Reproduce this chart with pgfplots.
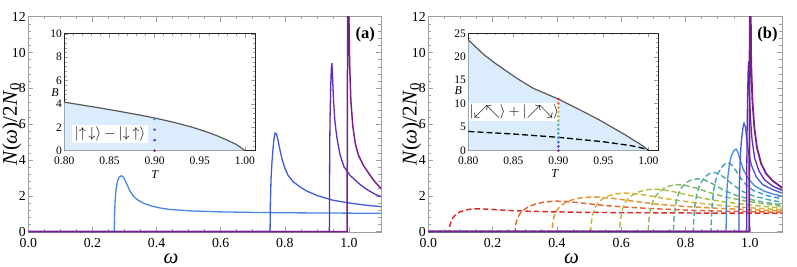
\documentclass[border=0pt]{standalone}
\usepackage{pgfplots}
\pgfplotsset{compat=1.18}
\usepackage{fontspec}
\setmainfont{Liberation Serif}
\definecolor{c0}{RGB}{122,30,138}
\definecolor{c1}{RGB}{90,45,195}
\definecolor{c2}{RGB}{65,92,215}
\definecolor{c3}{RGB}{72,135,225}
\definecolor{c4}{RGB}{68,160,200}
\definecolor{c5}{RGB}{78,172,168}
\definecolor{c6}{RGB}{100,178,130}
\definecolor{c7}{RGB}{138,186,92}
\definecolor{c8}{RGB}{178,190,66}
\definecolor{c9}{RGB}{212,178,55}
\definecolor{c10}{RGB}{229,146,50}
\definecolor{c11}{RGB}{230,98,45}
\definecolor{c12}{RGB}{220,40,40}
\definecolor{fillblue}{RGB}{219,236,252}
\definecolor{bndgray}{RGB}{90,90,90}
\pgfplotsset{
  every axis/.append style={/pgf/number format/assume math mode=true},
  mainax/.style={
    scale only axis, anchor=south west, height=215.6pt,
    xmin=0, xmax=1.1, ymin=-0.04, ymax=12,
    xtick={0,0.2,0.4,0.6,0.8,1.0}, ytick={0,2,4,6,8,10,12},
    minor x tick num=3, minor y tick num=4,
    xticklabel style={/pgf/number format/fixed, /pgf/number format/fixed zerofill, /pgf/number format/precision=1, yshift=-2pt},
    yticklabel style={/pgf/number format/fixed, /pgf/number format/precision=0, xshift=1pt},
    tick label style={font=\fontsize{13.8}{14}\selectfont},
    axis line style={gray!75},
    tick style={gray!75, line width=0.5pt},
    major tick length=5pt, minor tick length=2.8pt,
    ylabel={\textit{N}(\textit{ω})/2\textit{N}\textsubscript{0}},
    ylabel style={at={(axis description cs:-0.047,0.5)}, anchor=center, font=\fontsize{21}{22}\selectfont},
    xlabel={\textit{ω}},
    xlabel style={at={(axis description cs:0.405,-0.147)}, anchor=base, inner sep=0pt, font=\fontsize{21}{22}\selectfont},
  },
  insetax/.style={
    scale only axis, anchor=south west, width=190.5pt, height=116.9pt,
    xmin=0.8, xmax=1.011, ymin=0,
    xtick={0.8,0.85,0.9,0.95,1.0},
    minor x tick num=4, minor y tick num=4,
    xticklabel style={/pgf/number format/fixed, /pgf/number format/fixed zerofill, /pgf/number format/precision=2, yshift=-2.5pt},
    yticklabel style={/pgf/number format/fixed, /pgf/number format/precision=0, xshift=1pt},
    tick label style={font=\fontsize{11.5}{12}\selectfont},
    axis line style={black!85, line width=0.6pt},
    tick style={gray!75, line width=0.5pt},
    major tick length=4pt, minor tick length=2.2pt,
    axis background/.style={fill=white},
    xlabel={\textit{T}}, ylabel={\textit{B}},
    xlabel style={font=\fontsize{12}{13}\selectfont, anchor=center},
    ylabel style={font=\fontsize{12}{13}\selectfont, anchor=center, rotate=-90},
  },
  sol/.style={line width=1.3pt},
  dsh/.style={line width=1.45pt, dash pattern=on 5.5pt off 3pt},
  dot/.style={only marks, mark=*, mark size=1.1pt},
}
\begin{document}
\begin{tikzpicture}
\path[use as bounding box] (0,0) rectangle (797pt,267pt);
% ---------------- panel (a) main
\begin{axis}[mainax, at={(28.3pt,34.7pt)}, width=352.7pt]
\addplot[sol, c3] coordinates {(0,0)(0.268,0)(0.269,1.0)(0.271,1.8)(0.274,2.4)(0.278,2.8)(0.284,3.05)(0.291,3.12)(0.298,3.0)(0.306,2.7)(0.316,2.3)(0.327,2.0)(0.34,1.78)(0.36,1.58)(0.38,1.45)(0.41,1.32)(0.44,1.24)(0.5,1.16)(0.6,1.1)(0.7,1.07)(0.8,1.05)(0.9,1.04)(1.0,1.03)(1.1,1.02)};
\addplot[sol, c2] coordinates {(0,0)(0.754,0)(0.755,1.6)(0.757,2.9)(0.76,3.9)(0.763,4.6)(0.766,5.15)(0.77,5.5)(0.774,5.45)(0.779,5.1)(0.785,4.55)(0.792,4.0)(0.80,3.55)(0.81,3.15)(0.825,2.8)(0.847,2.5)(0.87,2.25)(0.9,2.02)(0.95,1.75)(1.0,1.6)(1.05,1.48)(1.1,1.39)};
\addplot[sol, c1] coordinates {(0,0)(0.939,0)(0.9395,2.5)(0.940,4.5)(0.941,6.3)(0.943,8.0)(0.945,9.1)(0.947,9.4)(0.949,8.6)(0.952,7.3)(0.956,6.2)(0.962,5.3)(0.972,4.3)(0.985,3.6)(1.003,3.15)(1.03,2.7)(1.056,2.35)(1.08,2.1)(1.1,1.95)};
\addplot[sol, c0, line width=1.5pt] coordinates {(0,0)(0.994,0)(0.995,5)(0.996,13)(0.999,13)(1.002,9.5)(1.006,7.3)(1.012,5.9)(1.02,4.9)(1.03,4.25)(1.045,3.7)(1.06,3.3)(1.08,2.8)(1.1,2.4)};
\node[font=\bfseries\fontsize{16.5}{17}\selectfont] at (axis description cs:0.955,0.915) {(a)};
\end{axis}
% ---------------- panel (b) main
\begin{axis}[mainax, at={(428.3pt,34.7pt)}, width=353.7pt]
\addplot[dsh, c12] coordinates {(0,0)(0.065,0)(0.067,0.32)(0.071,0.57)(0.077,0.78)(0.086,0.97)(0.098,1.1)(0.113,1.19)(0.13,1.25)(0.15,1.27)(0.175,1.26)(0.21,1.22)(0.26,1.17)(0.32,1.13)(0.4,1.1)(0.5,1.07)(0.6,1.06)(0.7,1.05)(0.8,1.04)(0.9,1.03)(1.0,1.03)(1.1,1.02)};
\addplot[dsh, c11] coordinates {(0,0)(0.27,0)(0.272,0.42)(0.277,0.75)(0.285,1.0)(0.297,1.22)(0.313,1.4)(0.333,1.54)(0.358,1.64)(0.39,1.7)(0.42,1.69)(0.46,1.63)(0.51,1.53)(0.56,1.44)(0.62,1.36)(0.7,1.28)(0.8,1.2)(0.9,1.15)(1.0,1.11)(1.1,1.08)};
\addplot[dsh, c10] coordinates {(0,0)(0.385,0)(0.387,0.48)(0.391,0.85)(0.398,1.15)(0.41,1.4)(0.425,1.6)(0.447,1.77)(0.473,1.88)(0.505,1.93)(0.535,1.92)(0.575,1.85)(0.62,1.74)(0.7,1.55)(0.8,1.4)(0.9,1.3)(1.0,1.22)(1.1,1.15)};
\addplot[dsh, c9] coordinates {(0,0)(0.505,0)(0.507,0.53)(0.511,0.95)(0.517,1.3)(0.527,1.58)(0.54,1.8)(0.557,1.98)(0.582,2.1)(0.61,2.15)(0.635,2.13)(0.67,2.05)(0.71,1.93)(0.76,1.78)(0.82,1.63)(0.9,1.47)(1.0,1.33)(1.1,1.22)};
\addplot[dsh, c8] coordinates {(0,0)(0.595,0)(0.597,0.58)(0.601,1.05)(0.607,1.43)(0.617,1.75)(0.63,1.98)(0.648,2.18)(0.672,2.31)(0.70,2.37)(0.725,2.35)(0.76,2.24)(0.81,2.03)(0.86,1.84)(0.92,1.66)(1.0,1.48)(1.1,1.31)};
\addplot[dsh, c7] coordinates {(0,0)(0.684,0)(0.686,0.64)(0.69,1.15)(0.696,1.58)(0.705,1.93)(0.717,2.2)(0.733,2.42)(0.752,2.56)(0.775,2.62)(0.8,2.58)(0.835,2.42)(0.875,2.18)(0.925,1.93)(0.98,1.73)(1.04,1.56)(1.1,1.41)};
\addplot[dsh, c6] coordinates {(0,0)(0.762,0)(0.764,0.72)(0.767,1.25)(0.772,1.75)(0.779,2.15)(0.789,2.48)(0.803,2.75)(0.82,2.9)(0.84,2.95)(0.86,2.88)(0.885,2.66)(0.915,2.35)(0.95,2.07)(1.0,1.8)(1.05,1.62)(1.1,1.5)};
\addplot[dsh, c5] coordinates {(0,0)(0.824,0)(0.826,0.85)(0.829,1.45)(0.834,2.0)(0.841,2.45)(0.85,2.8)(0.862,3.08)(0.876,3.25)(0.89,3.3)(0.905,3.22)(0.925,2.95)(0.95,2.58)(0.98,2.22)(1.015,1.97)(1.06,1.77)(1.1,1.64)};
\addplot[dsh, c4] coordinates {(0,0)(0.879,0)(0.881,1.0)(0.884,1.75)(0.888,2.35)(0.894,2.88)(0.902,3.28)(0.912,3.58)(0.922,3.77)(0.933,3.84)(0.944,3.72)(0.956,3.42)(0.97,3.02)(0.988,2.62)(1.01,2.3)(1.05,2.03)(1.1,1.82)};
\addplot[sol, c3] coordinates {(0,0)(0.926,0)(0.927,1.5)(0.929,2.4)(0.932,3.1)(0.936,3.7)(0.941,4.15)(0.948,4.45)(0.953,4.57)(0.958,4.6)(0.963,4.42)(0.97,4.0)(0.98,3.45)(0.995,2.95)(1.015,2.55)(1.045,2.25)(1.075,2.08)(1.1,1.98)};
\addplot[sol, c2] coordinates {(0,0)(0.966,0)(0.967,2.2)(0.969,3.5)(0.971,4.4)(0.974,5.1)(0.977,5.6)(0.98,5.95)(0.982,6.05)(0.986,5.85)(0.99,5.2)(0.996,4.4)(1.005,3.7)(1.02,3.05)(1.04,2.62)(1.07,2.35)(1.1,2.15)};
\addplot[sol, c1] coordinates {(0,0)(0.99,0)(0.9905,3.5)(0.9915,5.8)(0.993,7.6)(0.9945,8.9)(0.996,9.5)(0.9975,8.8)(0.999,7.6)(1.002,6.3)(1.007,5.1)(1.015,4.1)(1.028,3.4)(1.045,2.9)(1.07,2.55)(1.1,2.3)};
\addplot[sol, c0, line width=1.8pt] coordinates {(0,0)(0.998,0)(0.999,8)(1.0,14)(1.002,14)(1.004,9.5)(1.008,7.3)(1.014,5.8)(1.022,4.7)(1.035,3.8)(1.05,3.25)(1.07,2.85)(1.1,2.45)};
\node[font=\bfseries\fontsize{16.5}{17}\selectfont] at (axis description cs:0.959,0.915) {(b)};
\end{axis}
% ---------------- inset (a)
\begin{axis}[insetax, at={(64.3pt,116.3pt)}, ymax=10, ytick={0,2,4,6,8,10},
  xlabel style={at={(axis description cs:0.476,-0.2)}},
  ylabel style={at={(axis description cs:-0.049,0.5)}}]
\addplot[fill=fillblue, draw=none] coordinates {(0.8,4.15)(0.82,3.9)(0.84,3.65)(0.86,3.38)(0.88,3.1)(0.90,2.8)(0.92,2.45)(0.94,2.05)(0.95,1.8)(0.96,1.55)(0.97,1.25)(0.98,0.92)(0.99,0.55)(0.995,0.3)(1.0,0)} \closedcycle;
\addplot[bndgray, line width=1.2pt] coordinates {(0.8,4.15)(0.82,3.9)(0.84,3.65)(0.86,3.38)(0.88,3.1)(0.90,2.8)(0.92,2.45)(0.94,2.05)(0.95,1.8)(0.96,1.55)(0.97,1.25)(0.98,0.92)(0.99,0.55)(0.995,0.3)(1.0,0)};
\addplot[dot, c3] coordinates {(0.9,2.7)};
\addplot[dot, c2] coordinates {(0.9,1.8)};
\addplot[dot, c1] coordinates {(0.9,0.9)};
\addplot[dot, c0] coordinates {(0.9,0)};
\node[fill=white, inner sep=0.5pt, minimum width=76pt, minimum height=18pt, font=\fontsize{14}{15}\selectfont] at (axis cs:0.8506,1.41) {$\big|{\uparrow}\,{\downarrow}\big\rangle - \big|{\downarrow}\,{\uparrow}\big\rangle$};
\end{axis}
% ---------------- inset (b)
\begin{axis}[insetax, at={(468.3pt,116.3pt)}, width=190pt, height=117.4pt, ymax=25, ytick={0,5,10,15,20,25},
  xlabel style={at={(axis description cs:0.456,-0.194)}},
  ylabel style={at={(axis description cs:-0.053,0.51)}}]
\addplot[fill=fillblue, draw=none] coordinates {(0.8,23.6)(0.817,20.5)(0.83,18.6)(0.854,15.4)(0.872,13.3)(0.9,11.0)(0.928,8.3)(0.946,6.5)(0.965,4.4)(0.975,3.3)(0.983,2.3)(0.99,1.5)(0.996,0.7)(1.0,0)} \closedcycle;
\addplot[bndgray, line width=1.2pt] coordinates {(0.8,23.6)(0.817,20.5)(0.83,18.6)(0.854,15.4)(0.872,13.3)(0.9,11.0)(0.928,8.3)(0.946,6.5)(0.965,4.4)(0.975,3.3)(0.983,2.3)(0.99,1.5)(0.996,0.7)(1.0,0)};
\addplot[black, line width=1.3pt, dash pattern=on 6pt off 3pt] coordinates {(0.8,4.1)(0.85,3.55)(0.9,2.85)(0.95,1.9)(0.98,1.1)(0.99,0.7)(1.0,0.2)};
\addplot[dot, c0] coordinates {(0.9,0)};
\addplot[dot, c1] coordinates {(0.9,0.92)};
\addplot[dot, c2] coordinates {(0.9,1.83)};
\addplot[dot, c3] coordinates {(0.9,2.75)};
\addplot[dot, c4] coordinates {(0.9,3.67)};
\addplot[dot, c5] coordinates {(0.9,4.58)};
\addplot[dot, c6] coordinates {(0.9,5.5)};
\addplot[dot, c7] coordinates {(0.9,6.42)};
\addplot[dot, c8] coordinates {(0.9,7.33)};
\addplot[dot, c9] coordinates {(0.9,8.25)};
\addplot[dot, c10] coordinates {(0.9,9.17)};
\addplot[dot, c11] coordinates {(0.9,10.08)};
\addplot[dot, c12] coordinates {(0.9,11.0)};
\node[fill=white, inner sep=0.5pt, minimum width=75pt, minimum height=17.5pt, font=\fontsize{14}{15}\selectfont] at (axis description cs:0.2416,0.33) {$\big|{\swarrow}\mkern-3mu{\nwarrow}\big\rangle + \big|{\nearrow}\mkern-3mu{\searrow}\big\rangle$};
\end{axis}
\end{tikzpicture}
\end{document}
